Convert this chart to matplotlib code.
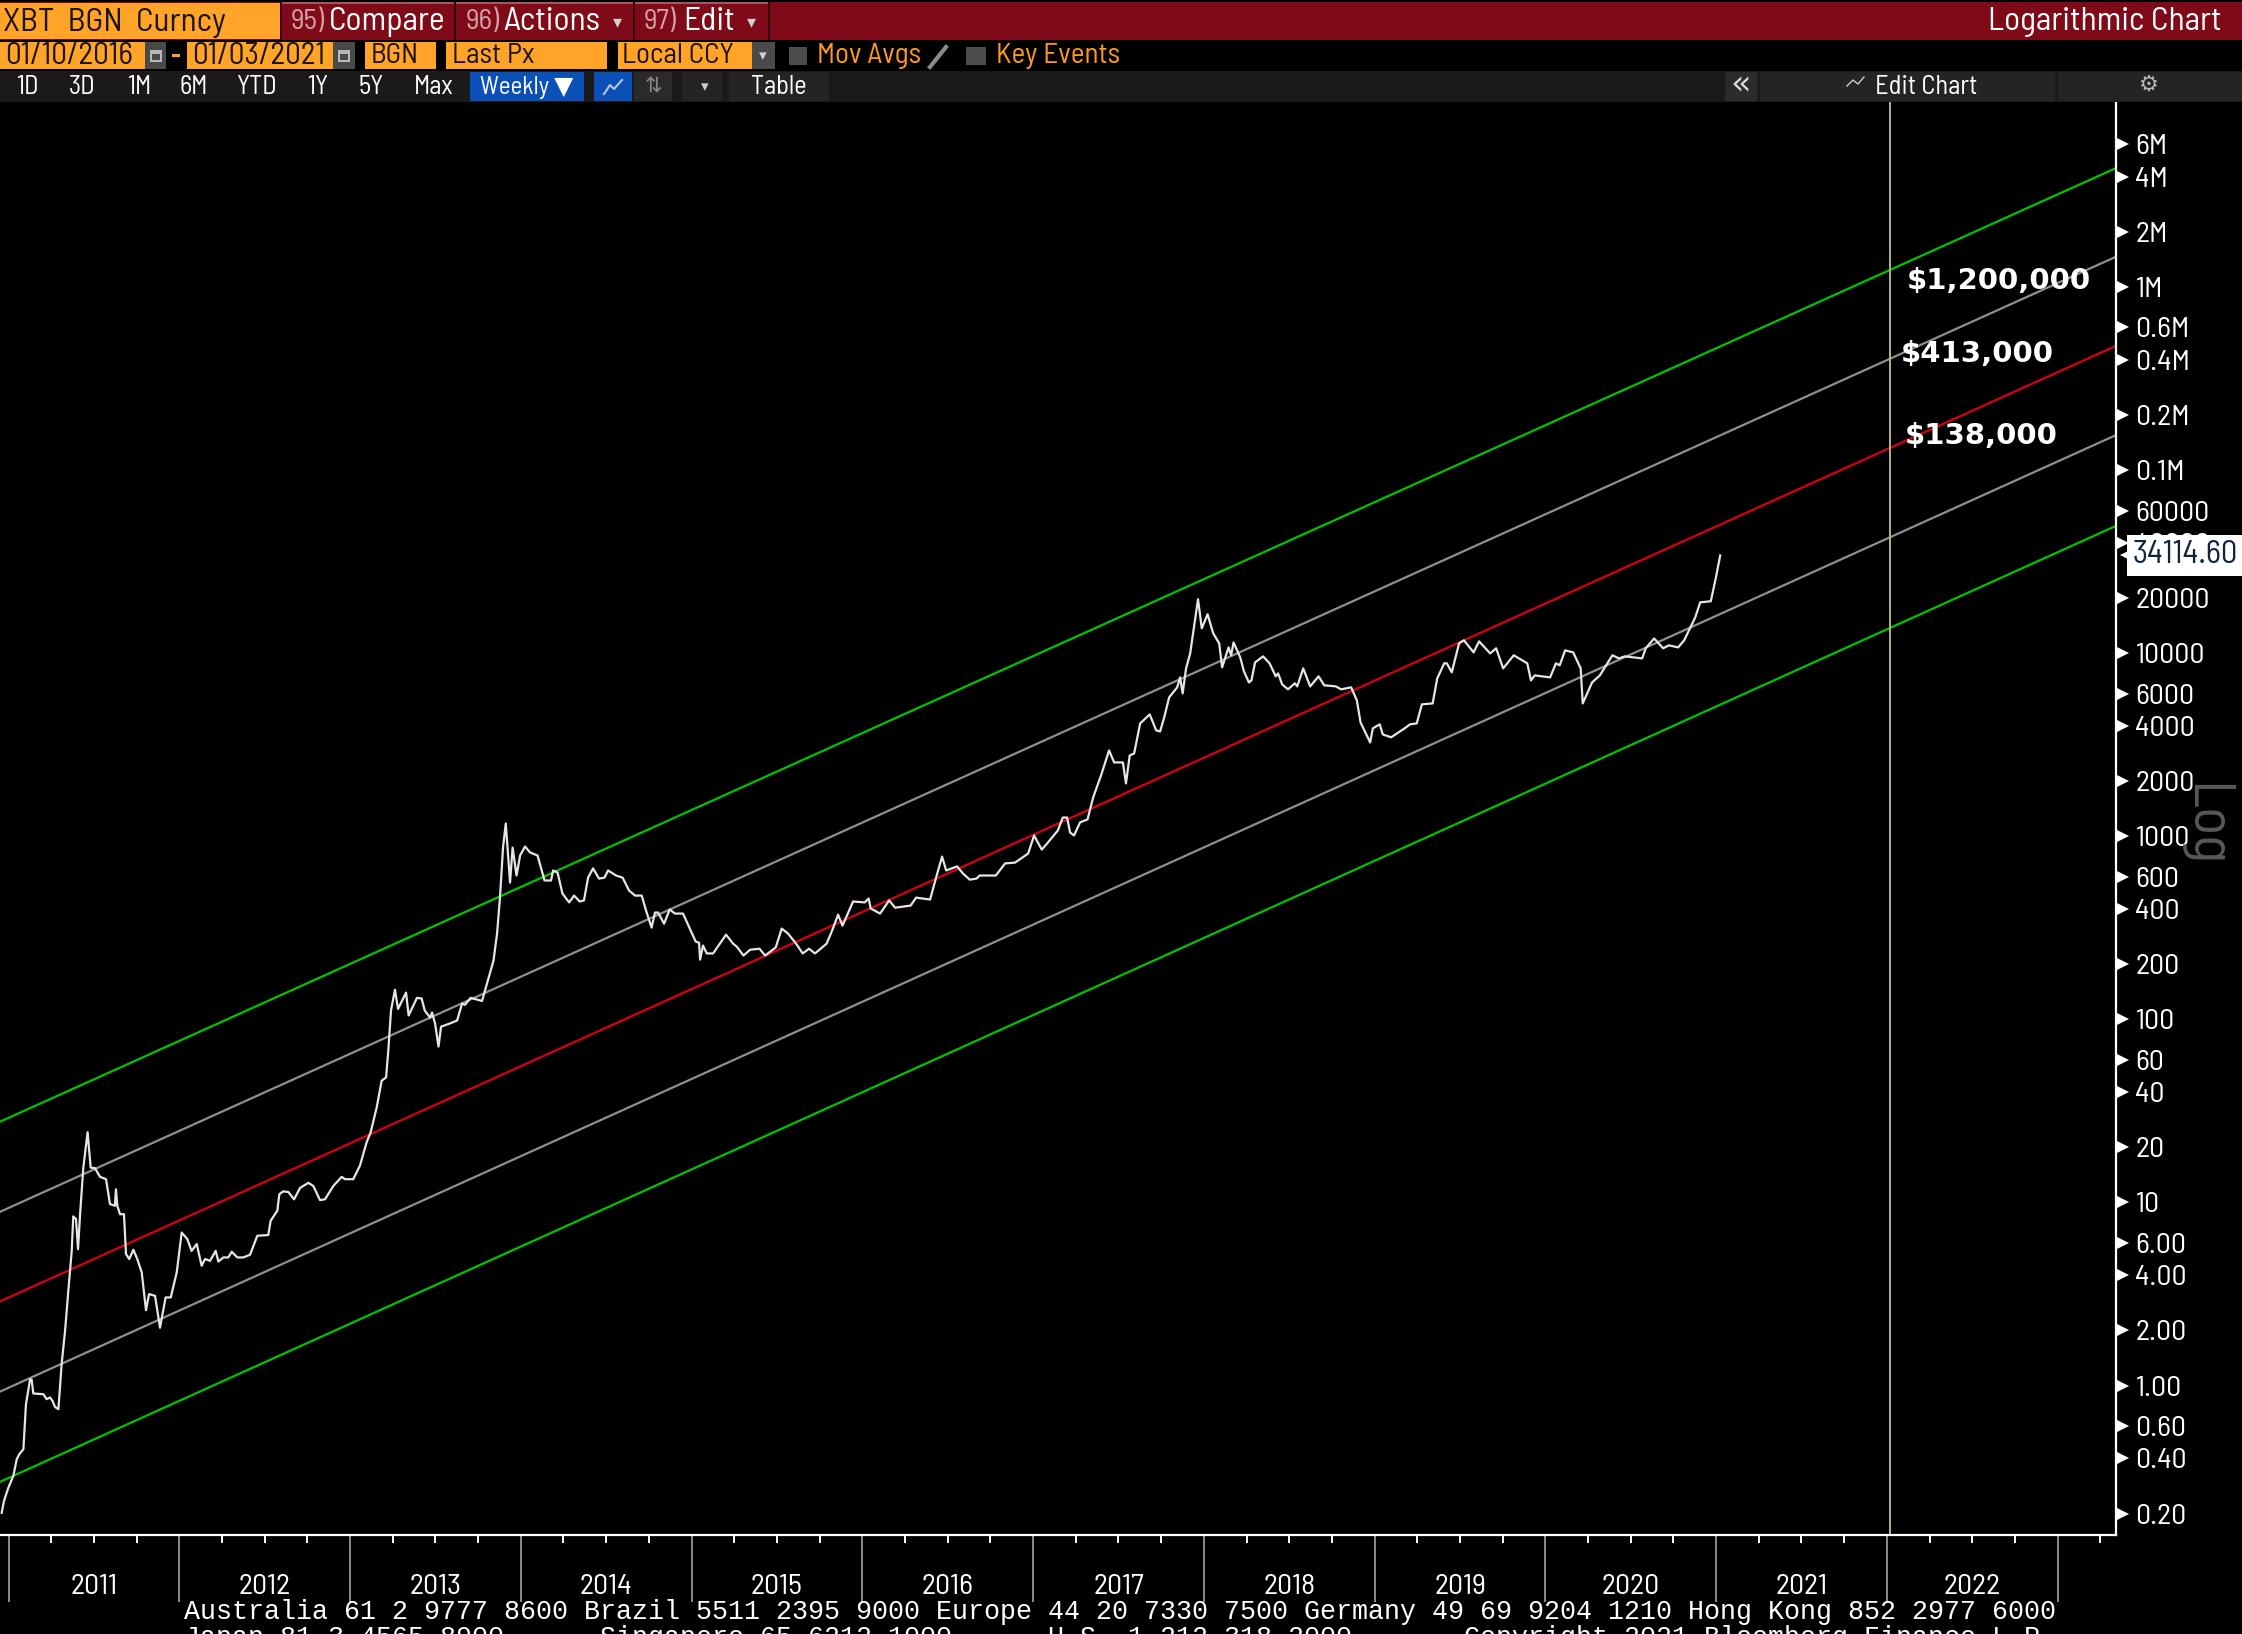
import numpy as np
import matplotlib
matplotlib.use("Agg")
import matplotlib.pyplot as plt
from matplotlib.patches import Rectangle

W, H = 2242, 1634
NARROW = ["Barlow Semi Condensed", "DejaVu Sans"]
MONO = ["Liberation Mono", "DejaVu Sans Mono"]

# bitcoin weekly line
btc_year = [2010.96, 2010.973, 2010.999, 2011.028, 2011.048, 2011.063, 2011.087, 2011.102, 2011.126, 2011.135,
            2011.145, 2011.204, 2011.223, 2011.243, 2011.258, 2011.272, 2011.292, 2011.311, 2011.331, 2011.35,
            2011.37, 2011.379, 2011.395, 2011.407, 2011.419, 2011.438, 2011.463, 2011.481, 2011.506, 2011.536,
            2011.571, 2011.594, 2011.623, 2011.629, 2011.637, 2011.653, 2011.676, 2011.688, 2011.707, 2011.731,
            2011.754, 2011.78, 2011.805, 2011.823, 2011.858, 2011.887, 2011.92, 2011.95, 2011.985, 2012.014,
            2012.047, 2012.072, 2012.102, 2012.131, 2012.151, 2012.18, 2012.213, 2012.229, 2012.258, 2012.287,
            2012.307, 2012.34, 2012.375, 2012.414, 2012.457, 2012.521, 2012.535, 2012.574, 2012.586, 2012.609,
            2012.639, 2012.672, 2012.707, 2012.756, 2012.785, 2012.824, 2012.853, 2012.902, 2012.951, 2012.97,
            2013.019, 2013.058, 2013.097, 2013.121, 2013.156, 2013.185, 2013.211, 2013.224,
            2013.24, 2013.263, 2013.281, 2013.328, 2013.343, 2013.392, 2013.419, 2013.437, 2013.469, 2013.48,
            2013.498, 2013.518, 2013.533, 2013.583, 2013.627, 2013.656, 2013.673, 2013.706, 2013.773, 2013.802,
            2013.84, 2013.861, 2013.878, 2013.896, 2013.912, 2013.937, 2013.952, 2013.975, 2013.996, 2014.025,
            2014.054, 2014.098, 2014.139, 2014.177, 2014.189, 2014.215, 2014.244, 2014.283, 2014.312, 2014.345,
            2014.37, 2014.394, 2014.423, 2014.458, 2014.49, 2014.511, 2014.558, 2014.596, 2014.634, 2014.669,
            2014.708, 2014.737, 2014.766, 2014.786, 2014.804, 2014.839, 2014.872, 2014.903, 2014.95, 2014.995,
            2015.024, 2015.044, 2015.05, 2015.067, 2015.089, 2015.126, 2015.202, 2015.243, 2015.264, 2015.304,
            2015.343, 2015.398, 2015.431, 2015.493, 2015.528, 2015.565, 2015.612, 2015.651, 2015.688, 2015.723,
            2015.791, 2015.823, 2015.858, 2015.884, 2015.946, 2016.014, 2016.037, 2016.049, 2016.104, 2016.157,
            2016.192, 2016.283, 2016.315, 2016.397, 2016.432, 2016.467, 2016.491, 2016.555, 2016.59, 2016.629,
            2016.669, 2016.687, 2016.782, 2016.836, 2016.895, 2016.971, 2017.006, 2017.051, 2017.082, 2017.145,
            2017.174, 2017.199, 2017.217, 2017.24, 2017.275, 2017.319, 2017.352, 2017.398, 2017.445, 2017.475,
            2017.526, 2017.544, 2017.566, 2017.592, 2017.627, 2017.683, 2017.721, 2017.744, 2017.768, 2017.797,
            2017.844, 2017.861, 2017.876, 2017.896, 2017.92, 2017.966, 2017.988, 2018.022, 2018.055, 2018.09,
            2018.107, 2018.145, 2018.16, 2018.174, 2018.213, 2018.235, 2018.264, 2018.279, 2018.3, 2018.347,
            2018.385, 2018.421, 2018.435, 2018.459, 2018.493, 2018.533, 2018.547, 2018.582, 2018.623, 2018.672,
            2018.705, 2018.773, 2018.804, 2018.863, 2018.896, 2018.918, 2018.974, 2018.99, 2019.03, 2019.048,
            2019.097, 2019.176, 2019.208, 2019.247, 2019.277, 2019.34, 2019.367, 2019.408, 2019.423, 2019.452,
            2019.495, 2019.523, 2019.58, 2019.612, 2019.677, 2019.712, 2019.753, 2019.815, 2019.894, 2019.916,
            2019.938, 2020.028, 2020.062, 2020.084, 2020.116, 2020.163, 2020.207, 2020.219, 2020.274, 2020.319,
            2020.393, 2020.431, 2020.465, 2020.567, 2020.588, 2020.637, 2020.69, 2020.723, 2020.778, 2020.813,
            2020.878, 2020.907, 2020.969, 2020.998, 2021.024]
btc_price = [0.202, 0.234, 0.277, 0.321, 0.396, 0.422, 0.449, 0.791, 1.08, 1.08,
             0.906, 0.897, 0.843, 0.861, 0.824, 0.765, 0.743, 1.31, 1.99, 3.29,
             5.44, 8.39, 8.11, 5.56, 8.63, 15.5, 24.2, 15.5, 15.4, 13.8,
             13.4, 9.8, 9.59, 11.8, 9.59, 8.63, 8.63, 5.22, 4.91, 5.52,
             4.91, 4.15, 2.58, 3.16, 3.09, 2.07, 3.03, 3.03, 4.15, 6.85,
             6.31, 5.44, 5.93, 4.51, 4.91, 4.8, 5.44, 4.76, 5.01, 5.01,
             5.38, 5.01, 5.01, 5.18, 6.58, 6.64, 7.94, 9.02, 11.1, 11.5,
             11.4, 10.4, 12.0, 12.8, 12.3, 10.3, 10.4, 12.3, 13.8, 13.4,
             13.4, 15.9, 21.3, 24.2, 33.0, 46.2, 48.2, 67.5,
             112, 145, 114, 140, 105, 131, 130, 112, 102, 109,
             94.8, 71.0, 91.2, 94.8, 98.5, 122, 120, 131, 126, 157,
             209, 294, 462, 867, 1175, 558, 867, 610, 785, 879,
             815, 785, 573, 573, 650, 634, 486, 435, 474, 440,
             446, 594, 667, 587, 594, 650, 610, 594, 505, 474,
             474, 383, 317, 383, 383, 333, 398, 378, 378, 305,
             266, 262, 212, 253, 229, 229, 290, 259, 250, 223,
             240, 243, 223, 247, 313, 294, 259, 229, 243, 229,
             259, 305, 373, 325, 440, 435, 457, 403, 378, 446,
             407, 418, 462, 451, 594, 774, 650, 684, 625, 579,
             587, 610, 610, 710, 718, 804, 1009, 845, 912, 1074,
             1265, 1265, 1047, 1009, 1189, 1236, 1629, 2148, 2938, 2529,
             2529, 1941, 2761, 2831, 4130, 4624, 3784, 3733, 4456, 5730,
             6500, 7365, 6026, 8247, 9954, 19680, 13650, 16290, 12820, 11300,
             8356, 10740, 9727, 11430, 9484, 7943, 6918, 7096, 8892, 9594,
             8790, 7464, 7745, 6745, 6339, 6839, 6579, 8247, 6579, 7464,
             6668, 6579, 6339, 6500, 5521, 4178, 3251, 3882, 4083, 3597,
             3467, 3882, 4083, 4130, 5248, 5309, 7278, 8790, 8790, 7852,
             11300, 11750, 10090, 11590, 9954, 10620, 8247, 9727, 8790, 7096,
             7551, 7365, 8790, 8570, 10350, 10090, 8247, 5309, 6918, 7551,
             9727, 9354, 9594, 9354, 10620, 12020, 10620, 11020, 10740, 11750,
             15670, 18920, 19190, 25590, 34114.6]

# trend channel, value at the left and right edge of the plot
channel_year = [2010.95, 2023.342]
upper_green = [27.6, 4.45e6]
upper_grey = [8.89, 1.46e6]
mid_red = [2.88, 4.76e5]
lower_grey = [0.927, 1.55e5]
lower_green = [0.298, 4.95e4]

marker_year = 2022.02
target_labels = ["$1,200,000", "$413,000", "$138,000"]
target_x = [2022.118, 2022.083, 2022.106]
target_y = [1.08e6, 4.3e5, 1.54e5]

y_ticks = [6e6, 4e6, 2e6, 1e6, 6e5, 4e5, 2e5, 1e5, 60000, 40000, 20000, 10000, 6000, 4000, 2000, 1000,
           600, 400, 200, 100, 60, 40, 20, 10, 6, 4, 2, 1, 0.6, 0.4, 0.2]
y_labels = ["6M", "4M", "2M", "1M", "0.6M", "0.4M", "0.2M", "0.1M", "60000", "40000", "20000", "10000", "6000",
            "4000", "2000", "1000", "600", "400", "200", "100", "60", "40", "20", "10", "6.00", "4.00", "2.00",
            "1.00", "0.60", "0.40", "0.20"]
years = list(range(2011, 2024))
year_labels = [str(y) for y in range(2011, 2023)]

fig = plt.figure(figsize=(W / 100, H / 100), dpi=100, facecolor="black")

# chart area
ax = fig.add_axes([0, (H - 1535) / H, 2116 / W, (1535 - 102) / H], facecolor="black", zorder=2)
ax.set_yscale("log")
ax.set_xlim(2010.95, 2023.342)
ax.set_ylim(0.1528, 1.0216e7)

ax.plot(channel_year, upper_green, color="#00c400", lw=1.6)
ax.plot(channel_year, upper_grey, color="#8f8f8f", lw=1.6)
ax.plot(channel_year, mid_red, color="#d80010", lw=1.6)
ax.plot(channel_year, lower_grey, color="#8f8f8f", lw=1.6)
ax.plot(channel_year, lower_green, color="#00c400", lw=1.6)
ax.axvline(marker_year, color="#b4b486", lw=1.4)
ax.plot(btc_year, btc_price, color="#e6e6e6", lw=1.6)

for s, x, y in zip(target_labels, target_x, target_y):
    ax.text(x, y, s, color="white", fontsize=21, fontweight="bold", family="DejaVu Sans", va="center", zorder=6)

for side in ["top", "left"]:
    ax.spines[side].set_visible(False)
for side in ["bottom", "right"]:
    ax.spines[side].set_color("white")
    ax.spines[side].set_linewidth(1.6)

ax.yaxis.tick_right()
ax.set_yticks(y_ticks)
ax.set_yticklabels(y_labels, family=NARROW, fontsize=21.5, color="white")
ax.minorticks_off()
ax.tick_params(axis="y", which="major", length=0, pad=14)
ax.plot([1.0032] * len(y_ticks), y_ticks, ">", color="white", ms=8, mew=0, ls="none",
        transform=ax.get_yaxis_transform(), clip_on=False, zorder=5)

ax.set_xticks(years)
ax.set_xticklabels([])
quarters = [y + q for y in years for q in (0.25, 0.5, 0.75) if y + q < 2023.3]
ax.set_xticks(quarters, minor=True)
ax.set_xticklabels([year_labels[int(q) - 2011] if q % 1 == 0.5 and int(q) < 2023 else "" for q in quarters],
                   minor=True, family=NARROW, fontsize=21.5, color="white")
ax.tick_params(axis="x", which="major", length=48, width=1.4, color="#8c8c8c")
ax.tick_params(axis="x", which="minor", length=5.5, width=1.4, color="white", pad=22.5)

# last price tag
ax.plot([1.0075], [btc_price[-1]], "<", color="white", ms=18, mew=0, transform=ax.get_yaxis_transform(),
        clip_on=False, zorder=9)
ax.annotate(f"{btc_price[-1]:.2f}", xy=(1, btc_price[-1]), xycoords=("axes fraction", "data"),
            xytext=(12, 0), textcoords="offset points", va="center", family=NARROW, fontsize=23.5,
            color="#10243c", zorder=10, annotation_clip=False,
            bbox=dict(boxstyle="square,pad=0.17", fc="white", ec="none"))

# terminal chrome, in pixels
ui = fig.add_axes([0, 0, 1, 1], facecolor="none", zorder=5)
ui.set_xlim(0, W)
ui.set_ylim(H, 0)
ui.axis("off")


def box(x0, y0, x1, y1, color):
    ui.add_patch(Rectangle((x0, y0), x1 - x0, y1 - y0, fc=color, ec="none"))


def label(x, y, s, color="white", size=19, ha="left", fam=NARROW):
    ui.text(x, y, s, color=color, fontsize=size, ha=ha, va="center", family=fam)


ORANGE = "#ffa428"
DARK = "#1c1408"
ui_red = "#7f0a18"

box(0, 2, W, 40, ui_red)
box(0, 3, 280, 39, ORANGE)
label(3, 23, "XBT  BGN  Curncy", DARK, 24)
for x in [281, 455, 634, 769]:
    box(x - 1, 2, x + 1, 40, "#35060c")
box(282, 2, 454, 4, "#a85560")
box(456, 2, 633, 4, "#a85560")
box(635, 2, 768, 4, "#a85560")
label(291, 22, "95)", "#d5a0a8", 21)
label(329, 22, "Compare", "white", 24)
label(466, 22, "96)", "#d5a0a8", 21)
label(503, 22, "Actions", "white", 24)
label(617, 22, "▾", "#d0d0d0", 13, ha="center", fam="DejaVu Sans")
label(644, 22, "97)", "#d5a0a8", 21)
label(683, 22, "Edit", "white", 24)
label(751, 22, "▾", "#d0d0d0", 13, ha="center", fam="DejaVu Sans")
label(W - 20, 22, "Logarithmic Chart", "white", 24, ha="right")

for x0, x1 in [(0, 145), (187, 333), (365, 436), (446, 607), (618, 752)]:
    box(x0, 42, x1, 69, ORANGE)
for x0, x1 in [(145, 166), (333, 355), (752, 775)]:
    box(x0, 42, x1, 69, "#4a4a4a")
for x in [156, 344]:
    box(x - 6, 50, x + 6, 62, "#b8b8b8")
    box(x - 4, 54, x + 4, 60, "#4a4a4a")
box(172, 54, 180, 57, ORANGE)
label(5, 56, "01/10/2016", DARK, 22.5)
label(192, 56, "01/03/2021", DARK, 22.5)
label(371, 56, "BGN", DARK, 21)
label(452, 56, "Last Px", DARK, 21)
label(622, 56, "Local CCY", DARK, 21)
label(763, 56, "▾", "#d0d0d0", 11, ha="center", fam="DejaVu Sans")
box(789, 47, 807, 65, "#4d4d4d")
label(817, 56, "Mov Avgs", "#ff9a1c", 21)
ui.plot([930, 946], [67, 47], color="#8a8a8a", lw=3)
box(966, 47, 986, 65, "#4d4d4d")
label(996, 56, "Key Events", "#ff9a1c", 21)

box(0, 71, W, 102, "#1a1a1a")
for x, s in zip([27, 82, 139, 194, 257, 318, 371, 434], ["1D", "3D", "1M", "6M", "YTD", "1Y", "5Y", "Max"]):
    label(x, 87, s, "white", 19, ha="center")
box(470, 72, 584, 101, "#0a50b8")
label(527, 87, "Weekly ▼", "white", 18, ha="center")
box(594, 72, 632, 101, "#0a50b8")
ui.plot([604, 610, 614, 622], [94, 85, 89, 80], color="#b8c8e8", lw=1.5)
box(634, 72, 672, 101, "#2a2a2a")
label(653, 86, "⇅", "#888888", 15, ha="center", fam="DejaVu Sans")
box(682, 72, 722, 101, "#242424")
label(705, 87, "▾", "#d0d0d0", 11, ha="center", fam="DejaVu Sans")
box(729, 72, 829, 101, "#242424")
label(779, 87, "Table", "white", 19, ha="center")
box(1725, 72, 1757, 101, "#2b2b2b")
label(1741, 85, "«", "#d8d8d8", 24, ha="center", fam="DejaVu Sans")
box(1760, 72, 2055, 101, "#242424")
ui.plot([1847, 1853, 1858, 1864], [86, 80, 84, 77], color="#d0d0d0", lw=1)
label(1926, 87, "Edit Chart", "white", 19, ha="center")
box(2058, 72, W, 101, "#242424")
label(2149, 85, "⚙", "#b8b8b8", 16, ha="center", fam="DejaVu Sans")

label(2204, 825, "Log", "#585858", 42, ha="center")
ui.texts[-1].set_rotation(270)

label(184, 1612, "Australia 61 2 9777 8600 Brazil 5511 2395 9000 Europe 44 20 7330 7500 "
      "Germany 49 69 9204 1210 Hong Kong 852 2977 6000", "white", 19.2, fam=MONO)
label(184, 1638, "Japan 81 3 4565 8900      Singapore 65 6212 1000      U.S. 1 212 318 2000       "
      "Copyright 2021 Bloomberg Finance L.P.", "white", 19.2, fam=MONO)

fig.savefig("out.png", dpi=100, facecolor="black")
